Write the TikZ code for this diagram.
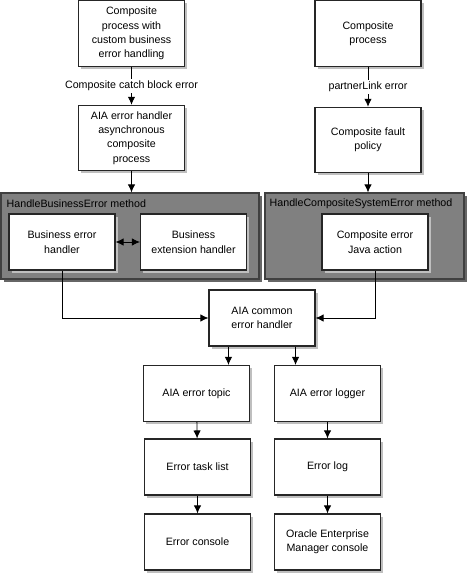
\documentclass[tikz,border=0pt]{standalone}
\usepackage{fontspec}
\setmainfont{Liberation Sans}
\usetikzlibrary{arrows.meta,shadows}

\begin{document}
\begin{tikzpicture}[x=0.75pt, y=-0.75pt,
  font=\fontsize{8pt}{10.8pt}\selectfont,
  box/.style={draw=black!85, line width=0.8pt, fill=white, align=center,
    minimum width=79.5pt, minimum height=42pt, inner sep=1pt,
    drop shadow={shadow xshift=2pt, shadow yshift=-2pt, fill=black!25, opacity=1}},
  tallbox/.style={box, minimum height=49pt},
  group/.style={draw=black!75, line width=0.8pt, fill=black!50,
    drop shadow={shadow xshift=2pt, shadow yshift=-2pt, fill=black!60, opacity=1}},
  arr/.style={-{Latex[length=6pt,width=5.5pt]}, line width=0.6pt},
]
  \useasboundingbox (0,0) rectangle (470,574);

  % Method groups
  \node[group, minimum width=193.5pt, minimum height=64.5pt] (bizgrp) at (130,236) {};
  \node[group, minimum width=149.25pt, minimum height=64.5pt] (sysgrp) at (364.5,236) {};
  \node[anchor=west, inner sep=0pt] at ([shift={(6,11)}]bizgrp.north west) {HandleBusinessError method};
  \node[anchor=west, inner sep=0pt] at ([shift={(5,11)}]sysgrp.north west) {HandleCompositeSystemError method};

  % Left branch
  \node[tallbox] (custproc) at (131.5,33.5) {Composite\\process with\\custom business\\error handling};
  \node[tallbox] (aiaasync) at (131.5,138) {AIA error handler\\asynchronous\\composite\\process};
  \node[box] (bizhandler) at (62,242) {Business error\\handler};
  \node[box] (bizext) at (193.5,242) {Business\\extension handler};

  % Right branch
  \node[tallbox] (compproc) at (368,33.5) {Composite\\process};
  \node[tallbox] (faultpol) at (368,140) {Composite fault\\policy};
  \node[box] (javaact) at (375,242) {Composite error\\Java action};

  % Common handling
  \node[box] (common) at (262,318) {AIA common\\error handler};
  \node[box] (topic) at (196.5,393.5) {AIA error topic};
  \node[box] (logger) at (327.5,393.5) {AIA error logger};
  \node[box] (tasklist) at (197.5,467) {Error task list};
  \node[box] (errlog) at (327.5,467) {Error log};
  \node[box] (console) at (197.5,542) {Error console};
  \node[box] (oem) at (327.5,542) {Oracle Enterprise\\Manager console};

  % Connectors
  \draw[arr] (custproc) -- node[fill=white, inner sep=1.5pt] {Composite catch block error} (aiaasync);
  \draw[arr] (compproc) -- node[fill=white, inner sep=1.5pt] {partnerLink error} (faultpol);
  \draw[arr] (aiaasync.south) -- (aiaasync.south |- bizgrp.north);
  \draw[arr] (faultpol.south) -- (faultpol.south |- sysgrp.north);
  \draw[arr, {Latex[length=6pt,width=5.5pt]}-{Latex[length=6pt,width=5.5pt]}] (bizhandler) -- (bizext);
  \draw[arr] (bizhandler.south) |- (common.west);
  \draw[arr] (javaact.south) |- (common.east);
  \draw[arr] ([xshift=15pt]common.south west) -- ([xshift=15pt]common.south west |- topic.north);
  \draw[arr] ([xshift=-15pt]common.south east) -- ([xshift=-15pt]common.south east |- logger.north);
  \draw[arr] (topic) -- (tasklist);
  \draw[arr] (tasklist) -- (console);
  \draw[arr] (logger) -- (errlog);
  \draw[arr] (errlog) -- (oem);

\end{tikzpicture}
\end{document}
